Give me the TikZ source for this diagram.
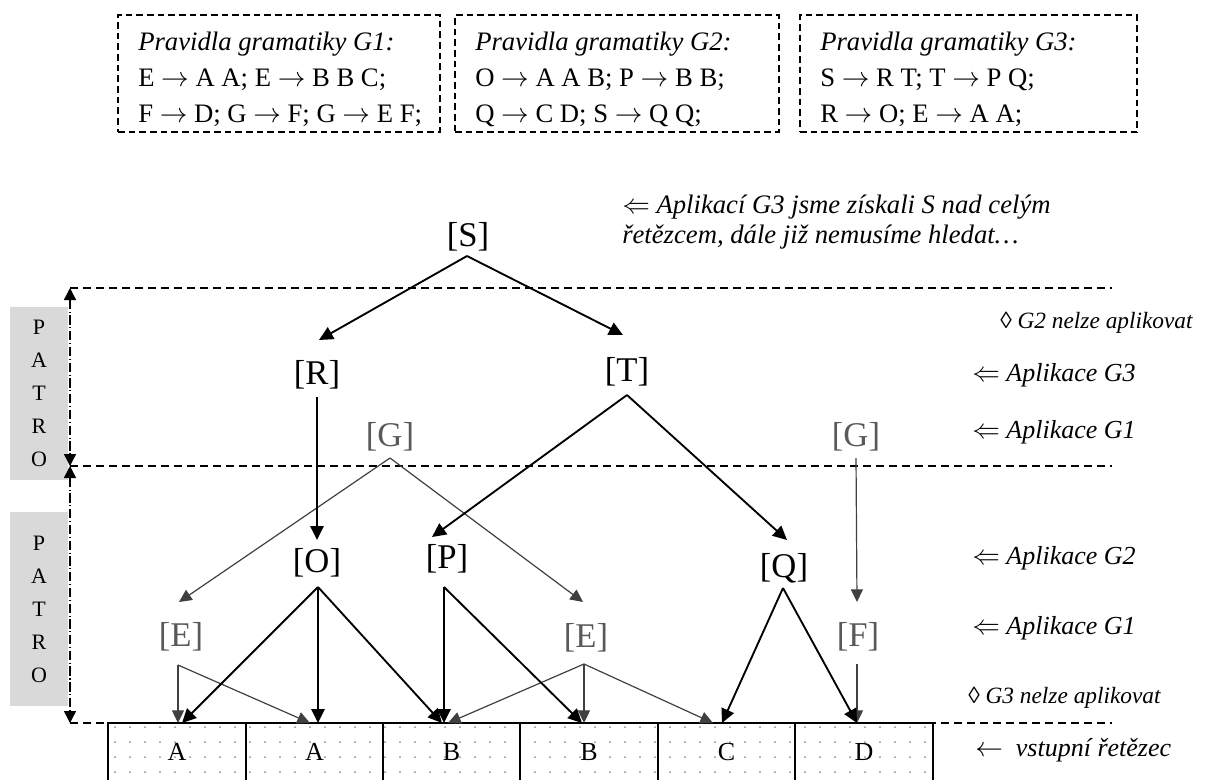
\documentclass[tikz,border=0pt]{standalone}
\usepackage{fontspec}
\setmainfont{Liberation Serif}
\usetikzlibrary{arrows.meta,calc}
\definecolor{gtext}{HTML}{595959}
\definecolor{garrow}{HTML}{404040}
\definecolor{patro}{HTML}{D9D9D9}
\definecolor{dotc}{HTML}{8C8C8C}
\begin{document}
\begin{tikzpicture}[x=0.75pt,y=-0.75pt,
  lbl/.style={font=\fontsize{26}{30}\selectfont, inner sep=0pt},
  glbl/.style={lbl, text=gtext},
  blk/.style={line width=1.4pt, -{Triangle[length=10.5pt,width=10pt]}},
  gry/.style={line width=0.9pt, garrow, -{Triangle[length=9.5pt,width=9pt]}},
  rulebox/.style={draw, line width=1pt, dash pattern=on 5pt off 3pt, minimum height=87.75pt, inner sep=0pt},
  rtxt/.style={font=\fontsize{20}{22}\selectfont, anchor=base west, inner sep=0pt},
  note/.style={font=\fontsize{19.5}{22}\selectfont\itshape, anchor=west, inner sep=0pt},
  tnote/.style={font=\fontsize{20}{22}\selectfont\itshape, anchor=west, inner sep=0pt},
  snote/.style={font=\fontsize{17.5}{22}\selectfont\itshape, anchor=west, inner sep=0pt},
  level/.style={line width=1.3pt, dash pattern=on 6pt off 3.75pt},
  dimline/.style={line width=1.1pt, dash pattern=on 7pt off 2pt on 0.8pt off 2pt, {Triangle[length=9pt,width=9pt]}-{Triangle[length=9pt,width=9pt]}},
  patrobox/.style={fill=patro, minimum width=43.5pt, align=center, font=\fontsize{16.5}{24.75}\selectfont, inner sep=0pt},
  cell/.style={draw, line width=1.4pt, minimum width=103pt, minimum height=43.5pt, inner sep=0pt, font=\fontsize{19.5}{22}\selectfont}
]
\clip (0,0) rectangle (1205,779);

% grammar boxes
\node[rulebox, minimum width=241.5pt] (g1) at (279,73.5) {};
\node[rulebox, minimum width=243pt] (g2) at (617,73.5) {};
\node[rulebox, minimum width=252.75pt] (g3) at (968.5,73.5) {};
\node[rtxt] (g1a) at (138,50) {\textit{Pravidla gramatiky G1:}};
\node[rtxt] (g1b) at (138,86) {E $\rightarrow$ A A; E $\rightarrow$ B B C;};
\node[rtxt] (g1c) at (138,122) {F $\rightarrow$ D; G $\rightarrow$ F; G $\rightarrow$ E F;};
\node[rtxt] (g2a) at (475,50) {\textit{Pravidla gramatiky G2:}};
\node[rtxt] (g2b) at (475,86) {O $\rightarrow$ A A B; P $\rightarrow$ B B;};
\node[rtxt] (g2c) at (475,122) {Q $\rightarrow$ C D; S $\rightarrow$ Q Q;};
\node[rtxt] (g3a) at (820,50) {\textit{Pravidla gramatiky G3:}};
\node[rtxt] (g3b) at (820,86) {S $\rightarrow$ R T; T $\rightarrow$ P Q;};
\node[rtxt] (g3c) at (820,122) {R $\rightarrow$ O; E $\rightarrow$ A A;};

% level lines
\coordinate (L1) at (70,288);
\coordinate (L2) at (70,466);
\coordinate (L3) at (70,723);
\coordinate (R1) at (1112,288);
\coordinate (R2) at (1112,466);
\coordinate (R3) at (1112,723);
\draw[level] (L1) -- (R1);
\draw[level] (L2) -- (R2);
\draw[level] (L3) -- (R3);

% PATRO boxes
\node[patrobox, minimum height=129.75pt] (p1) at (39,393.5) {P\\A\\T\\R\\O};
\node[patrobox, minimum height=145.5pt] (p2) at (39,609) {P\\A\\T\\R\\O};
\draw[dimline] (L1) -- (L2);
\draw[dimline] (L2) -- (L3);

% input cells
\foreach \r in {0,...,3} {
  \foreach \c in {0,...,54} {
    \fill[dotc] ({115+\c*15},{727+\r*15}) circle (1);
  }
}
\node[cell] (c1) at (177,752) {A};
\node[cell] (c2) at (314.5,752) {A};
\node[cell] (c3) at (451.5,752) {B};
\node[cell] (c4) at (589,752) {B};
\node[cell] (c5) at (726.5,752) {C};
\node[cell] (c6) at (864,752) {D};

% tree labels
\node[lbl] (S) at (468,237) {[S]};
\node[lbl] (R) at (317,375) {[R]};
\node[lbl] (T) at (627,372) {[T]};
\node[glbl] (Gl) at (390,437) {[G]};
\node[glbl] (Gr) at (856,437) {[G]};
\node[lbl] (O) at (317,563) {[O]};
\node[lbl] (P) at (447,559) {[P]};
\node[lbl] (Q) at (784,568) {[Q]};
\node[glbl] (El) at (181,637) {[E]};
\node[glbl] (Em) at (586,638) {[E]};
\node[glbl] (F) at (858,637) {[F]};

% connector end points
\coordinate (So) at (467,256);
\coordinate (Ro) at (317,397);
\coordinate (To) at (627,395);
\coordinate (Glo) at (390,458);
\coordinate (Gro) at (856,458);
\coordinate (Oo) at (318,587);
\coordinate (Po) at (444,587);
\coordinate (Qo) at (783,588);
\coordinate (Elo) at (178,665);
\coordinate (Emo) at (584,664);
\coordinate (Fo) at (857,664);

\coordinate (Ri) at (319,340);
\coordinate (Ti) at (623,335);
\coordinate (Oi) at (317,540);
\coordinate (Pi) at (432,537);
\coordinate (Qi) at (787,540);
\coordinate (Eli) at (179,602);
\coordinate (Emi) at (583,602);
\coordinate (Fi) at (857,602);

% gray connectors
\draw[gry] (Glo) -- (Eli);
\draw[gry] (Glo) -- (Emi);
\draw[gry] (Gro) -- (Fi);
\draw[gry] (Elo) -- (178,723);
\draw[gry] (Elo) -- (310,723);
\draw[gry] (Emo) -- (448,723);
\draw[gry] (Emo) -- (584,723);
\draw[gry] (Emo) -- (713,723);
\draw[gry] (Fo) -- (857,723);

% black connectors
\draw[blk] (So) -- (Ri);
\draw[blk] (So) -- (Ti);
\draw[blk] (Ro) -- (Oi);
\draw[blk] (To) -- (Pi);
\draw[blk] (To) -- (Qi);
\draw[blk] (Oo) -- (182,723);
\draw[blk] (Oo) -- (318,723);
\draw[blk] (Oo) -- (442,723);
\draw[blk] (Po) -- (444,723);
\draw[blk] (Po) -- (582,723);
\draw[blk] (Qo) -- (722,723);
\draw[blk] (Qo) -- (857,723);

% notes
\node[tnote] (n0a) at (622,207) {$\Leftarrow$ Aplikací G3 jsme získali S nad celým};
\node[tnote] (n0b) at (622,237) {řetězcem, dále již nemusíme hledat…};
\node[snote] (n1) at (1000,323) {{\upshape ◊} G2 nelze aplikovat};
\node[note] (n2) at (972,375) {$\Leftarrow$ Aplikace G3};
\node[note] (n3) at (972,432) {$\Leftarrow$ Aplikace G1};
\node[note] (n4) at (972,558) {$\Leftarrow$ Aplikace G2};
\node[note] (n5) at (972,628) {$\Leftarrow$ Aplikace G1};
\node[snote] (n6) at (968,698) {{\upshape ◊} G3 nelze aplikovat};
\node[note] (n7) at (975,750) {$\leftarrow$ \ vstupní řetězec};
\end{tikzpicture}
\end{document}
